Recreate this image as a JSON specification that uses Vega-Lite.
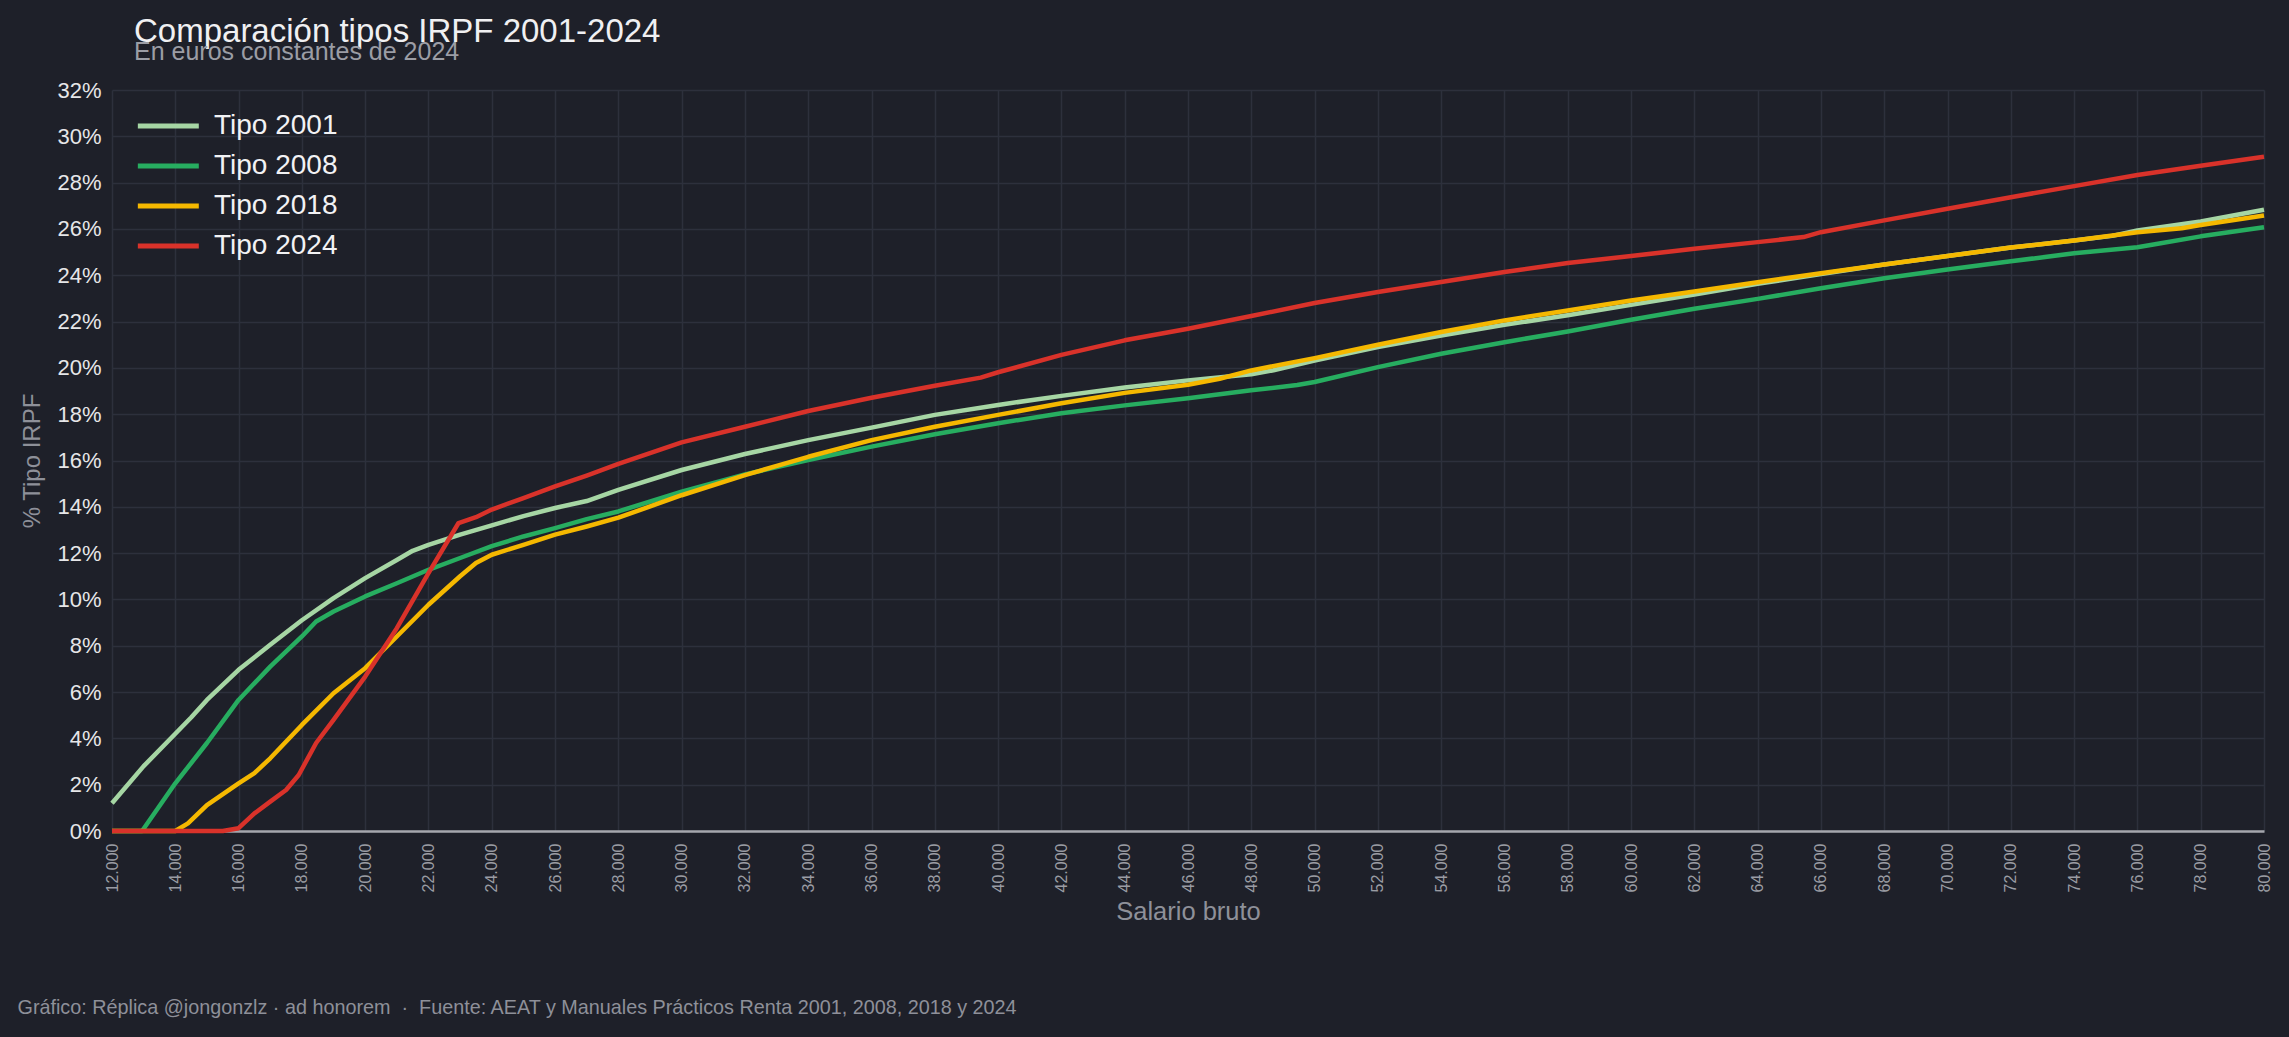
{
  "$schema": "https://vega.github.io/schema/vega-lite/v6.json",
  "width": 2152,
  "height": 741,
  "autosize": {"type": "none"},
  "padding": {"left": 112, "top": 90, "right": 25, "bottom": 206},
  "background": "#1e2029",
  "title": {
    "text": "Comparación tipos IRPF 2001-2024",
    "subtitle": "En euros constantes de 2024",
    "anchor": "start",
    "frame": "group",
    "dx": 22,
    "offset": 14,
    "font": "Liberation Sans",
    "subtitleFont": "Liberation Sans",
    "fontSize": 33,
    "subtitleFontSize": 25,
    "fontWeight": "normal",
    "color": "#f0f0f2",
    "subtitleColor": "#9b9da5",
    "subtitlePadding": -9
  },
  "data": {
    "values": [
      {"serie": "Tipo 2001", "salario": 12000, "tipo": 1.2},
      {"serie": "Tipo 2001", "salario": 13000, "tipo": 2.8},
      {"serie": "Tipo 2001", "salario": 14000, "tipo": 4.2},
      {"serie": "Tipo 2001", "salario": 14500, "tipo": 4.9},
      {"serie": "Tipo 2001", "salario": 15000, "tipo": 5.66},
      {"serie": "Tipo 2001", "salario": 16000, "tipo": 6.96},
      {"serie": "Tipo 2001", "salario": 17000, "tipo": 8.04},
      {"serie": "Tipo 2001", "salario": 18000, "tipo": 9.1},
      {"serie": "Tipo 2001", "salario": 19000, "tipo": 10.06},
      {"serie": "Tipo 2001", "salario": 20000, "tipo": 10.92},
      {"serie": "Tipo 2001", "salario": 21000, "tipo": 11.7},
      {"serie": "Tipo 2001", "salario": 21500, "tipo": 12.1},
      {"serie": "Tipo 2001", "salario": 22000, "tipo": 12.36},
      {"serie": "Tipo 2001", "salario": 23000, "tipo": 12.8},
      {"serie": "Tipo 2001", "salario": 24000, "tipo": 13.2},
      {"serie": "Tipo 2001", "salario": 25000, "tipo": 13.6},
      {"serie": "Tipo 2001", "salario": 26000, "tipo": 13.95},
      {"serie": "Tipo 2001", "salario": 27000, "tipo": 14.25},
      {"serie": "Tipo 2001", "salario": 28000, "tipo": 14.73},
      {"serie": "Tipo 2001", "salario": 30000, "tipo": 15.59},
      {"serie": "Tipo 2001", "salario": 32000, "tipo": 16.28},
      {"serie": "Tipo 2001", "salario": 34000, "tipo": 16.88},
      {"serie": "Tipo 2001", "salario": 36000, "tipo": 17.42},
      {"serie": "Tipo 2001", "salario": 38000, "tipo": 17.97},
      {"serie": "Tipo 2001", "salario": 40000, "tipo": 18.4},
      {"serie": "Tipo 2001", "salario": 42000, "tipo": 18.79},
      {"serie": "Tipo 2001", "salario": 44000, "tipo": 19.15},
      {"serie": "Tipo 2001", "salario": 46000, "tipo": 19.46},
      {"serie": "Tipo 2001", "salario": 48000, "tipo": 19.72},
      {"serie": "Tipo 2001", "salario": 48700, "tipo": 19.9},
      {"serie": "Tipo 2001", "salario": 50000, "tipo": 20.32},
      {"serie": "Tipo 2001", "salario": 52000, "tipo": 20.9},
      {"serie": "Tipo 2001", "salario": 54000, "tipo": 21.4},
      {"serie": "Tipo 2001", "salario": 56000, "tipo": 21.86},
      {"serie": "Tipo 2001", "salario": 58000, "tipo": 22.27},
      {"serie": "Tipo 2001", "salario": 60000, "tipo": 22.72},
      {"serie": "Tipo 2001", "salario": 62000, "tipo": 23.17},
      {"serie": "Tipo 2001", "salario": 64000, "tipo": 23.63},
      {"serie": "Tipo 2001", "salario": 66000, "tipo": 24.05},
      {"serie": "Tipo 2001", "salario": 68000, "tipo": 24.46},
      {"serie": "Tipo 2001", "salario": 70000, "tipo": 24.83},
      {"serie": "Tipo 2001", "salario": 72000, "tipo": 25.2},
      {"serie": "Tipo 2001", "salario": 74000, "tipo": 25.5},
      {"serie": "Tipo 2001", "salario": 75200, "tipo": 25.7},
      {"serie": "Tipo 2001", "salario": 76000, "tipo": 25.93},
      {"serie": "Tipo 2001", "salario": 78000, "tipo": 26.32},
      {"serie": "Tipo 2001", "salario": 80000, "tipo": 26.83},

      {"serie": "Tipo 2008", "salario": 12000, "tipo": 0},
      {"serie": "Tipo 2008", "salario": 12950, "tipo": 0},
      {"serie": "Tipo 2008", "salario": 14000, "tipo": 2.06},
      {"serie": "Tipo 2008", "salario": 15000, "tipo": 3.8},
      {"serie": "Tipo 2008", "salario": 16000, "tipo": 5.66},
      {"serie": "Tipo 2008", "salario": 17000, "tipo": 7.1},
      {"serie": "Tipo 2008", "salario": 18000, "tipo": 8.4},
      {"serie": "Tipo 2008", "salario": 18450, "tipo": 9.05},
      {"serie": "Tipo 2008", "salario": 19000, "tipo": 9.48},
      {"serie": "Tipo 2008", "salario": 20000, "tipo": 10.13},
      {"serie": "Tipo 2008", "salario": 21000, "tipo": 10.7},
      {"serie": "Tipo 2008", "salario": 22000, "tipo": 11.28},
      {"serie": "Tipo 2008", "salario": 23000, "tipo": 11.79},
      {"serie": "Tipo 2008", "salario": 24000, "tipo": 12.3},
      {"serie": "Tipo 2008", "salario": 25000, "tipo": 12.72},
      {"serie": "Tipo 2008", "salario": 26000, "tipo": 13.08},
      {"serie": "Tipo 2008", "salario": 27000, "tipo": 13.47},
      {"serie": "Tipo 2008", "salario": 28000, "tipo": 13.8},
      {"serie": "Tipo 2008", "salario": 30000, "tipo": 14.65},
      {"serie": "Tipo 2008", "salario": 32000, "tipo": 15.4},
      {"serie": "Tipo 2008", "salario": 34000, "tipo": 16.02},
      {"serie": "Tipo 2008", "salario": 36000, "tipo": 16.6},
      {"serie": "Tipo 2008", "salario": 38000, "tipo": 17.13},
      {"serie": "Tipo 2008", "salario": 40000, "tipo": 17.61},
      {"serie": "Tipo 2008", "salario": 42000, "tipo": 18.04},
      {"serie": "Tipo 2008", "salario": 44000, "tipo": 18.38},
      {"serie": "Tipo 2008", "salario": 46000, "tipo": 18.69},
      {"serie": "Tipo 2008", "salario": 48000, "tipo": 19.03},
      {"serie": "Tipo 2008", "salario": 49450, "tipo": 19.26},
      {"serie": "Tipo 2008", "salario": 50000, "tipo": 19.39},
      {"serie": "Tipo 2008", "salario": 52000, "tipo": 20.03},
      {"serie": "Tipo 2008", "salario": 54000, "tipo": 20.61},
      {"serie": "Tipo 2008", "salario": 56000, "tipo": 21.11},
      {"serie": "Tipo 2008", "salario": 58000, "tipo": 21.57},
      {"serie": "Tipo 2008", "salario": 60000, "tipo": 22.08},
      {"serie": "Tipo 2008", "salario": 62000, "tipo": 22.55},
      {"serie": "Tipo 2008", "salario": 64000, "tipo": 22.98},
      {"serie": "Tipo 2008", "salario": 66000, "tipo": 23.44},
      {"serie": "Tipo 2008", "salario": 68000, "tipo": 23.87},
      {"serie": "Tipo 2008", "salario": 70000, "tipo": 24.25},
      {"serie": "Tipo 2008", "salario": 72000, "tipo": 24.6},
      {"serie": "Tipo 2008", "salario": 74000, "tipo": 24.95},
      {"serie": "Tipo 2008", "salario": 76000, "tipo": 25.21},
      {"serie": "Tipo 2008", "salario": 76600, "tipo": 25.35},
      {"serie": "Tipo 2008", "salario": 78000, "tipo": 25.68},
      {"serie": "Tipo 2008", "salario": 80000, "tipo": 26.07},

      {"serie": "Tipo 2018", "salario": 12000, "tipo": 0},
      {"serie": "Tipo 2018", "salario": 14000, "tipo": 0},
      {"serie": "Tipo 2018", "salario": 14400, "tipo": 0.33},
      {"serie": "Tipo 2018", "salario": 15000, "tipo": 1.12},
      {"serie": "Tipo 2018", "salario": 16000, "tipo": 2.06},
      {"serie": "Tipo 2018", "salario": 16500, "tipo": 2.5},
      {"serie": "Tipo 2018", "salario": 17000, "tipo": 3.14},
      {"serie": "Tipo 2018", "salario": 18000, "tipo": 4.58},
      {"serie": "Tipo 2018", "salario": 19000, "tipo": 5.95},
      {"serie": "Tipo 2018", "salario": 20000, "tipo": 7.03},
      {"serie": "Tipo 2018", "salario": 21000, "tipo": 8.4},
      {"serie": "Tipo 2018", "salario": 22000, "tipo": 9.77},
      {"serie": "Tipo 2018", "salario": 23000, "tipo": 11.0},
      {"serie": "Tipo 2018", "salario": 23500, "tipo": 11.57},
      {"serie": "Tipo 2018", "salario": 24000, "tipo": 11.93},
      {"serie": "Tipo 2018", "salario": 25000, "tipo": 12.36},
      {"serie": "Tipo 2018", "salario": 26000, "tipo": 12.8},
      {"serie": "Tipo 2018", "salario": 27000, "tipo": 13.15},
      {"serie": "Tipo 2018", "salario": 28000, "tipo": 13.53},
      {"serie": "Tipo 2018", "salario": 30000, "tipo": 14.5},
      {"serie": "Tipo 2018", "salario": 32000, "tipo": 15.37},
      {"serie": "Tipo 2018", "salario": 34000, "tipo": 16.16},
      {"serie": "Tipo 2018", "salario": 36000, "tipo": 16.88},
      {"serie": "Tipo 2018", "salario": 38000, "tipo": 17.46},
      {"serie": "Tipo 2018", "salario": 40000, "tipo": 17.97},
      {"serie": "Tipo 2018", "salario": 42000, "tipo": 18.47},
      {"serie": "Tipo 2018", "salario": 44000, "tipo": 18.92},
      {"serie": "Tipo 2018", "salario": 46000, "tipo": 19.27},
      {"serie": "Tipo 2018", "salario": 47000, "tipo": 19.53},
      {"serie": "Tipo 2018", "salario": 48000, "tipo": 19.89},
      {"serie": "Tipo 2018", "salario": 50000, "tipo": 20.42},
      {"serie": "Tipo 2018", "salario": 52000, "tipo": 21.0},
      {"serie": "Tipo 2018", "salario": 54000, "tipo": 21.55},
      {"serie": "Tipo 2018", "salario": 56000, "tipo": 22.05},
      {"serie": "Tipo 2018", "salario": 58000, "tipo": 22.48},
      {"serie": "Tipo 2018", "salario": 60000, "tipo": 22.91},
      {"serie": "Tipo 2018", "salario": 62000, "tipo": 23.3},
      {"serie": "Tipo 2018", "salario": 64000, "tipo": 23.7},
      {"serie": "Tipo 2018", "salario": 66000, "tipo": 24.09},
      {"serie": "Tipo 2018", "salario": 68000, "tipo": 24.46},
      {"serie": "Tipo 2018", "salario": 70000, "tipo": 24.83},
      {"serie": "Tipo 2018", "salario": 72000, "tipo": 25.2},
      {"serie": "Tipo 2018", "salario": 74000, "tipo": 25.5},
      {"serie": "Tipo 2018", "salario": 76000, "tipo": 25.86},
      {"serie": "Tipo 2018", "salario": 77400, "tipo": 26.03},
      {"serie": "Tipo 2018", "salario": 78000, "tipo": 26.17},
      {"serie": "Tipo 2018", "salario": 80000, "tipo": 26.58},

      {"serie": "Tipo 2024", "salario": 12000, "tipo": 0},
      {"serie": "Tipo 2024", "salario": 15500, "tipo": 0},
      {"serie": "Tipo 2024", "salario": 16000, "tipo": 0.12},
      {"serie": "Tipo 2024", "salario": 16500, "tipo": 0.76},
      {"serie": "Tipo 2024", "salario": 17000, "tipo": 1.27},
      {"serie": "Tipo 2024", "salario": 17500, "tipo": 1.77},
      {"serie": "Tipo 2024", "salario": 17900, "tipo": 2.42},
      {"serie": "Tipo 2024", "salario": 18450, "tipo": 3.8},
      {"serie": "Tipo 2024", "salario": 19000, "tipo": 4.8},
      {"serie": "Tipo 2024", "salario": 20000, "tipo": 6.67},
      {"serie": "Tipo 2024", "salario": 21000, "tipo": 8.76},
      {"serie": "Tipo 2024", "salario": 22000, "tipo": 11.14},
      {"serie": "Tipo 2024", "salario": 22950, "tipo": 13.3},
      {"serie": "Tipo 2024", "salario": 23500, "tipo": 13.55},
      {"serie": "Tipo 2024", "salario": 24000, "tipo": 13.88},
      {"serie": "Tipo 2024", "salario": 25000, "tipo": 14.38},
      {"serie": "Tipo 2024", "salario": 26000, "tipo": 14.88},
      {"serie": "Tipo 2024", "salario": 27000, "tipo": 15.35},
      {"serie": "Tipo 2024", "salario": 28000, "tipo": 15.85},
      {"serie": "Tipo 2024", "salario": 30000, "tipo": 16.78},
      {"serie": "Tipo 2024", "salario": 32000, "tipo": 17.46},
      {"serie": "Tipo 2024", "salario": 34000, "tipo": 18.14},
      {"serie": "Tipo 2024", "salario": 36000, "tipo": 18.71},
      {"serie": "Tipo 2024", "salario": 38000, "tipo": 19.23},
      {"serie": "Tipo 2024", "salario": 39450, "tipo": 19.58},
      {"serie": "Tipo 2024", "salario": 40000, "tipo": 19.81},
      {"serie": "Tipo 2024", "salario": 42000, "tipo": 20.56},
      {"serie": "Tipo 2024", "salario": 44000, "tipo": 21.19},
      {"serie": "Tipo 2024", "salario": 46000, "tipo": 21.69},
      {"serie": "Tipo 2024", "salario": 48000, "tipo": 22.24},
      {"serie": "Tipo 2024", "salario": 50000, "tipo": 22.8},
      {"serie": "Tipo 2024", "salario": 52000, "tipo": 23.28},
      {"serie": "Tipo 2024", "salario": 54000, "tipo": 23.71},
      {"serie": "Tipo 2024", "salario": 56000, "tipo": 24.14},
      {"serie": "Tipo 2024", "salario": 58000, "tipo": 24.53},
      {"serie": "Tipo 2024", "salario": 60000, "tipo": 24.83},
      {"serie": "Tipo 2024", "salario": 62000, "tipo": 25.14},
      {"serie": "Tipo 2024", "salario": 64000, "tipo": 25.43},
      {"serie": "Tipo 2024", "salario": 65450, "tipo": 25.65},
      {"serie": "Tipo 2024", "salario": 66000, "tipo": 25.86},
      {"serie": "Tipo 2024", "salario": 68000, "tipo": 26.37},
      {"serie": "Tipo 2024", "salario": 70000, "tipo": 26.87},
      {"serie": "Tipo 2024", "salario": 72000, "tipo": 27.37},
      {"serie": "Tipo 2024", "salario": 74000, "tipo": 27.85},
      {"serie": "Tipo 2024", "salario": 76000, "tipo": 28.33},
      {"serie": "Tipo 2024", "salario": 78000, "tipo": 28.73},
      {"serie": "Tipo 2024", "salario": 80000, "tipo": 29.12}
    ]
  },
  "layer": [
    {
      "mark": {"type": "line", "strokeOpacity": 0},
      "encoding": {
        "x": {
          "field": "salario", "type": "quantitative",
          "scale": {"domain": [12000, 80000], "nice": false, "zero": false},
          "axis": {
            "orient": "top",
            "title": "Gráfico: Réplica @jongonzlz · ad honorem\u00a0 ·\u00a0 Fuente: AEAT y Manuales Prácticos Renta 2001, 2008, 2018 y 2024",
            "titleX": -95,
            "titleY": 923,
            "titleAlign": "left",
            "titleAnchor": null,
            "titleBaseline": "alphabetic",
            "titleFontSize": 19.8,
            "titleFontWeight": "normal",
            "titleColor": "#8e9099",
            "labels": false,
            "ticks": false,
            "domain": false,
            "grid": false
          }
        },
        "y": {"field": "tipo", "type": "quantitative"},
        "detail": {"field": "serie"}
      }
    },
    {
      "mark": {"type": "line", "strokeWidth": 4.5, "strokeJoin": "round"},
      "encoding": {
        "x": {
          "field": "salario", "type": "quantitative",
          "scale": {"domain": [12000, 80000], "nice": false, "zero": false},
          "axis": {
            "orient": "bottom",
            "title": "Salario bruto",
            "values": [12000, 14000, 16000, 18000, 20000, 22000, 24000, 26000, 28000, 30000, 32000, 34000, 36000, 38000, 40000, 42000, 44000, 46000, 48000, 50000, 52000, 54000, 56000, 58000, 60000, 62000, 64000, 66000, 68000, 70000, 72000, 74000, 76000, 78000, 80000],
            "labelExpr": "replace(format(datum.value, ',d'), ',', '.')",
            "labelAngle": -90,
            "labelFontSize": 16,
            "labelColor": "#9a9ca3",
            "labelPadding": 12,
            "labelOverlap": false,
            "labelFlush": false,
            "titleFontSize": 25.5,
            "titleFontWeight": "normal",
            "titleColor": "#8e9099",
            "titlePadding": 8,
            "domain": true,
            "domainColor": "#a5a6ad",
            "domainWidth": 2.5,
            "ticks": false,
            "grid": true
          }
        },
        "y": {
          "field": "tipo", "type": "quantitative",
          "scale": {"domain": [0, 32], "nice": false},
          "axis": {
            "title": "% Tipo IRPF",
            "values": [0, 2, 4, 6, 8, 10, 12, 14, 16, 18, 20, 22, 24, 26, 28, 30, 32],
            "labelExpr": "datum.value + '%'",
            "labelFontSize": 22,
            "labelColor": "#e6e6e8",
            "labelPadding": 11,
            "titleFontSize": 24,
            "titleFontWeight": "normal",
            "titleColor": "#8e9099",
            "titlePadding": 12,
            "domain": false,
            "ticks": false,
            "grid": true
          }
        },
        "color": {
          "field": "serie", "type": "nominal",
          "scale": {
            "domain": ["Tipo 2001", "Tipo 2008", "Tipo 2018", "Tipo 2024"],
            "range": ["#a6d6a4", "#27ad60", "#f5b800", "#d9322a"]
          },
          "legend": {
            "title": null,
            "orient": "top-left",
            "offset": 22,
            "padding": 0,
            "symbolType": "M-1,0H5",
            "symbolSize": 413,
            "symbolStrokeWidth": 5,
            "labelFontSize": 28,
            "labelColor": "#f2f2f4",
            "labelFont": "Liberation Sans",
            "labelOffset": 52,
            "rowPadding": 12
          }
        }
      }
    }
  ],
  "resolve": {"axis": {"x": "independent"}},
  "config": {
    "view": {"stroke": null},
    "font": "Liberation Sans",
    "axis": {
      "labelFont": "Liberation Sans",
      "titleFont": "Liberation Sans",
      "gridColor": "#2d303c",
      "gridWidth": 1.5
    },
    "legend": {"labelFont": "Liberation Sans"}
  }
}
